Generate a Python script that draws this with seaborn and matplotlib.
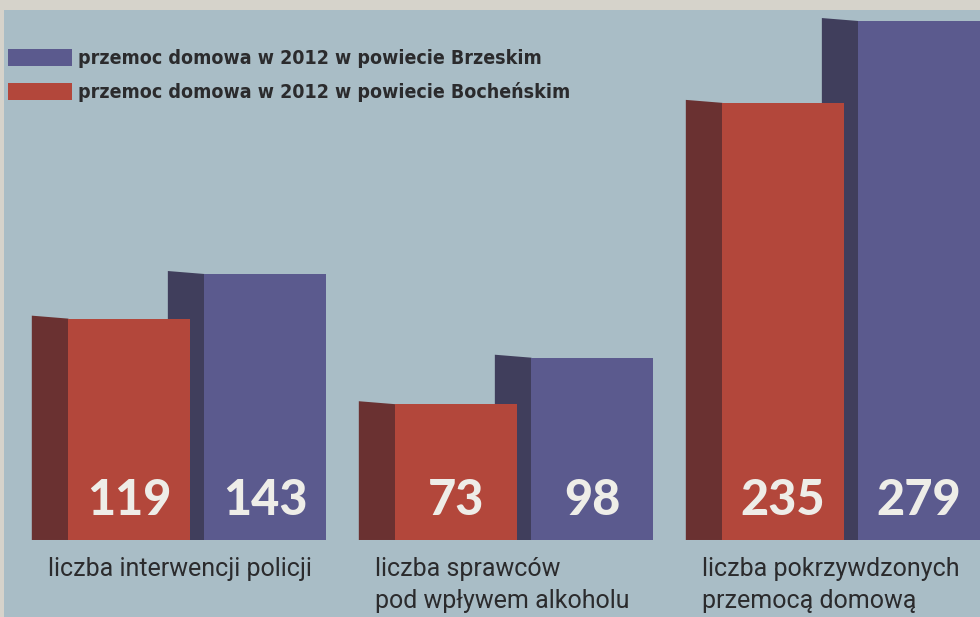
import numpy as np
import pandas as pd
import matplotlib
matplotlib.use("Agg")
import matplotlib.pyplot as plt
from matplotlib.patches import Polygon, Rectangle, Patch
from matplotlib import font_manager as fm
import seaborn as sns

# ---- data ----
categories = ["liczba interwencji policji",
              "liczba sprawców\npod wpływem alkoholu",
              "liczba pokrzywdzonych\nprzemocą domową"]
series = ["przemoc domowa w 2012 w powiecie Bocheńskim",
          "przemoc domowa w 2012 w powiecie Brzeskim"]
values_bochnia = [119, 73, 235]
values_brzesko = [143, 98, 279]

df = pd.DataFrame({
    "kategoria": categories * 2,
    "seria": [series[0]] * 3 + [series[1]] * 3,
    "wartosc": values_bochnia + values_brzesko,
})

# ---- styling ----
BG = "#a9bdc6"
STRIP = "#d6d3cb"
front = {series[0]: "#b3473b", series[1]: "#5b5a8e"}
side = {series[0]: "#6a3131", series[1]: "#403e5c"}
TXT = "#2b2b2d"

sns.set_theme(style="white")
plt.rcParams["font.family"] = ["Roboto", "DejaVu Sans"]

# find a condensed bold font for the legend, if one is installed
def find_condensed():
    best = None
    for f in fm.fontManager.ttflist:
        name = f.name.lower()
        fname = f.fname.lower()
        cond = ("narrow" in name or "condensed" in name or "condensed" in fname
                or "narrow" in fname or str(f.stretch) in ("condensed", "semi-condensed"))
        w = f.weight if isinstance(f.weight, int) else (700 if "bold" in str(f.weight) else 400)
        if cond and w >= 700 and "oblique" not in fname and "italic" not in fname:
            if best is None or ("liberation" in fname):
                best = f.fname
    return best

cond_path = find_condensed()
if cond_path:
    leg_prop = fm.FontProperties(fname=cond_path, size=14)
else:
    leg_prop = fm.FontProperties(family=["Liberation Sans", "DejaVu Sans"],
                                 weight="bold", size=13)

fig = plt.figure(figsize=(9.8, 6.17), dpi=100, facecolor=BG)
fig.patches.append(Rectangle((0, 1 - 10 / 617), 1, 10 / 617, transform=fig.transFigure,
                             facecolor=STRIP, edgecolor="none", zorder=0))
fig.patches.append(Rectangle((0, 0), 4 / 980, 1, transform=fig.transFigure,
                             facecolor=STRIP, edgecolor="none", zorder=0))

ax = fig.add_axes([0, 0, 1, 1])
ax.set_facecolor("none")

sns.barplot(data=df, x="kategoria", y="wartosc", hue="seria", hue_order=series,
            order=categories, palette=front, width=0.832, gap=0.11,
            legend=False, ax=ax, saturation=1, linewidth=0)

ax.set_xlim(-0.6024, 2.3945)
ax.set_ylim(-41.4, 290.3)
ax.axis("off")

side_w = 0.112
dh = 1.6
for i, s in enumerate(series):
    cont = ax.containers[i]
    base_z = 1 if s == series[1] else 3
    for bar, val in zip(cont.patches, (values_bochnia if i == 0 else values_brzesko)):
        bar.set_zorder(base_z + 1)
        x0 = bar.get_x()
        h = bar.get_height()
        poly = Polygon([(x0 - side_w, 0), (x0 - side_w, h + dh), (x0, h), (x0, 0)],
                       closed=True, facecolor=side[s], edgecolor="none", zorder=base_z)
        ax.add_patch(poly)
        ax.text(x0 + bar.get_width() / 2, 21, str(val), ha="center", va="center",
                fontsize=35, fontweight="black", color="#eeede8",
                family=["Lato", "DejaVu Sans"], zorder=10)

# category labels
for j, cat in enumerate(categories):
    ax.text(j - 0.455, -9.0, cat, ha="left", va="top", fontsize=18, color=TXT,
            linespacing=1.42, zorder=10)

# legend (Brzeski first)
handles = [Patch(facecolor=front[series[1]], edgecolor="none"),
           Patch(facecolor=front[series[0]], edgecolor="none")]
labels = [series[1], series[0]]
leg = fig.legend(handles, labels, loc="upper left",
                 bbox_to_anchor=(8 / 980, 1 - 49 / 617), frameon=False,
                 borderpad=0, borderaxespad=0, handlelength=3.3, handleheight=0.93,
                 handletextpad=0.3, labelspacing=0.72, prop=leg_prop)
for t in leg.get_texts():
    t.set_color(TXT)

fig.savefig("out.png", dpi=100, facecolor=BG)
